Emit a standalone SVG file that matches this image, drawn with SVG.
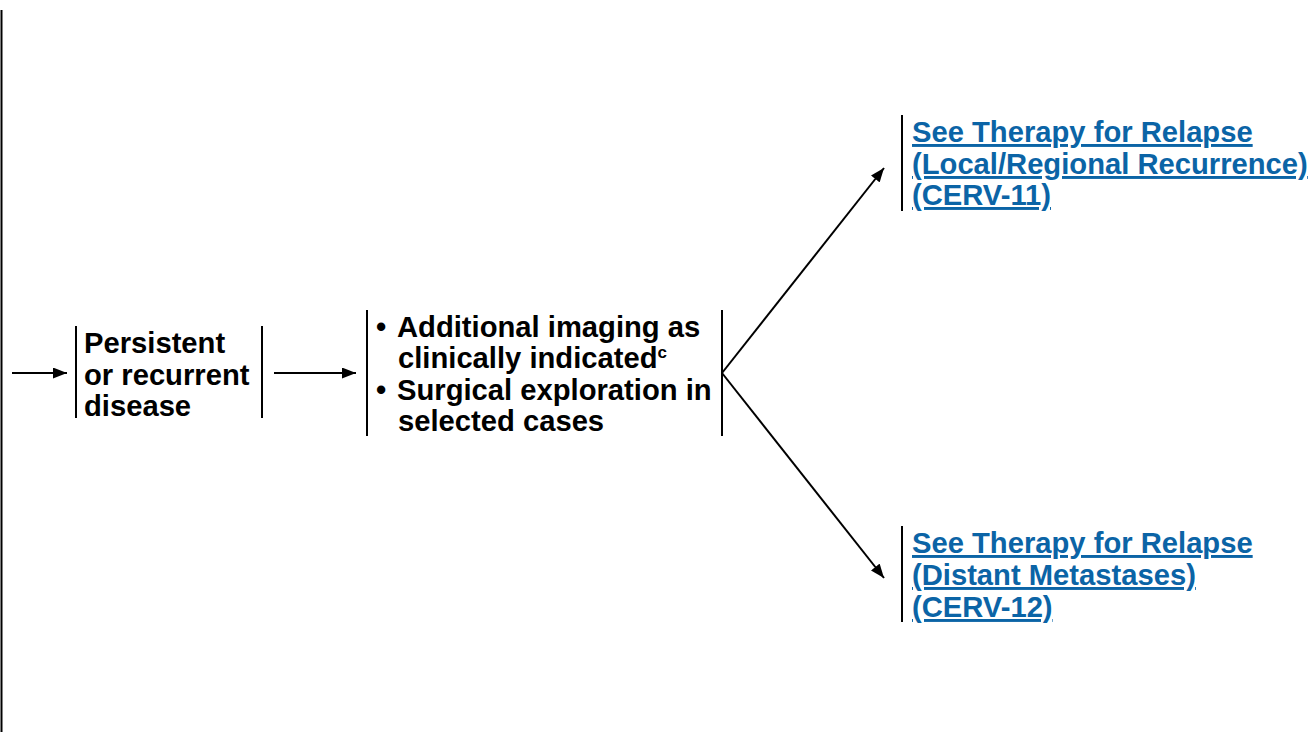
<svg xmlns="http://www.w3.org/2000/svg" width="1313" height="732" viewBox="0 0 1313 732">
<defs>
<marker id="ah" viewBox="0 0 14 11" refX="14" refY="5.5" markerWidth="14" markerHeight="11" markerUnits="userSpaceOnUse" orient="auto">
<path d="M0,0 L14,5.5 L0,11 z" fill="#000"/>
</marker>
<style>
.t{font-family:"Liberation Sans",Arial,sans-serif;font-weight:bold;font-size:29.2px;fill:#000}
.l{font-family:"Liberation Sans",Arial,sans-serif;font-weight:bold;font-size:29.2px;fill:#0b64a6;text-decoration:underline}
.bar{stroke:#000;stroke-width:2;fill:none}
.c{stroke:#000;stroke-width:2;fill:none}
</style>
</defs>
<rect width="1313" height="732" fill="#fff"/>
<line class="bar" x1="1.5" y1="10" x2="1.5" y2="732"/>
<g id="node-persistent">
<line class="bar" x1="76" y1="326" x2="76" y2="418"/>
<line class="bar" x1="262" y1="326" x2="262" y2="418"/>
<text class="t"><tspan x="84" y="353">Persistent</tspan><tspan x="84" y="384.5">or recurrent</tspan><tspan x="84" y="416">disease</tspan></text>
</g>
<g id="node-workup">
<line class="bar" x1="367" y1="310" x2="367" y2="436"/>
<line class="bar" x1="722" y1="310" x2="722" y2="436"/>
<text class="t"><tspan x="376" y="337">•</tspan><tspan x="397" y="337">Additional imaging as</tspan></text>
<text class="t"><tspan x="398" y="368">clinically indicated</tspan><tspan font-size="17" dy="-10">c</tspan></text>
<text class="t"><tspan x="376" y="400">•</tspan><tspan x="397" y="400">Surgical exploration in</tspan><tspan x="398" y="431">selected cases</tspan></text>
</g>
<g id="node-local">
<line class="bar" x1="902" y1="115" x2="902" y2="211"/>
<text class="l"><tspan x="912" y="142">See Therapy for Relapse</tspan><tspan x="912" y="174">(Local/Regional Recurrence)</tspan><tspan x="912" y="205">(CERV-11)</tspan></text>
</g>
<g id="node-distant">
<line class="bar" x1="902" y1="526" x2="902" y2="622"/>
<text class="l"><tspan x="912" y="553">See Therapy for Relapse</tspan><tspan x="912" y="585">(Distant Metastases)</tspan><tspan x="912" y="617">(CERV-12)</tspan></text>
</g>
<g id="connectors">
<line class="c" x1="12" y1="373" x2="67" y2="373" marker-end="url(#ah)"/>
<line class="c" x1="274" y1="373" x2="356" y2="373" marker-end="url(#ah)"/>
<line class="c" x1="722" y1="373" x2="884" y2="168" marker-end="url(#ah)"/>
<line class="c" x1="722" y1="373" x2="884" y2="578" marker-end="url(#ah)"/>
</g>
</svg>
